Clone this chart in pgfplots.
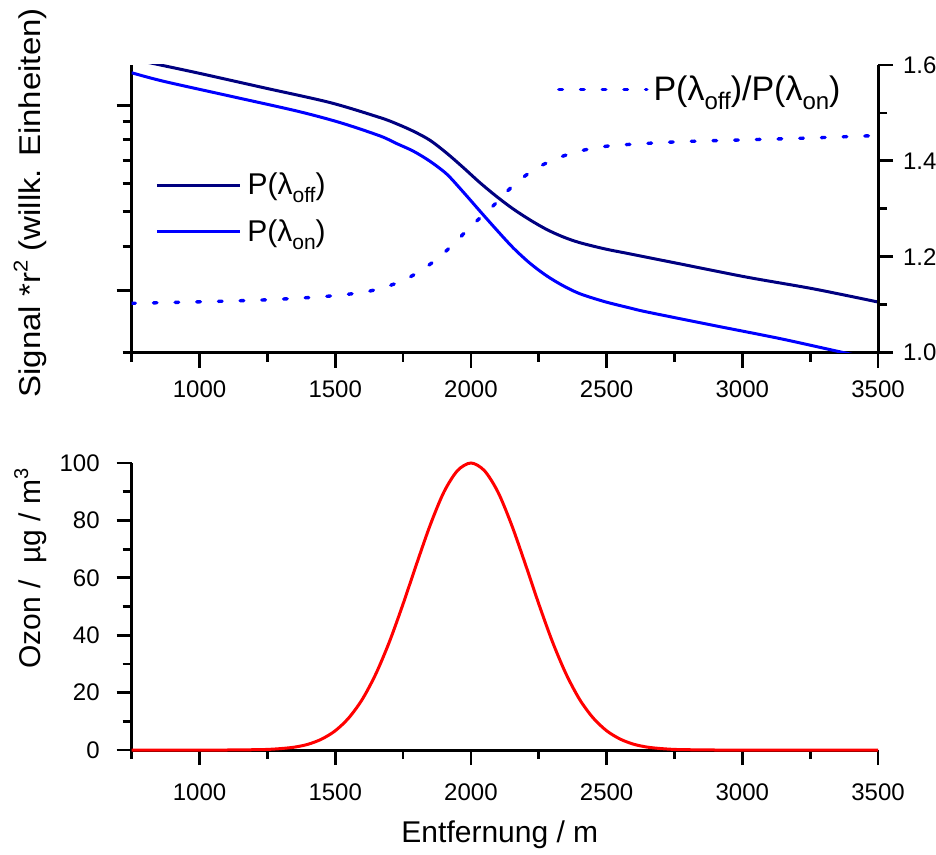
\documentclass[border=0pt]{standalone}
\usepackage{fontspec}
\setmainfont{Liberation Sans}
\usepackage{pgfplots}
\usepackage{pgfplotstable}
\pgfplotsset{compat=1.18}

\definecolor{offblue}{RGB}{0,0,128}
\definecolor{onblue}{RGB}{0,0,255}
\definecolor{ozonred}{RGB}{255,0,0}

% lowered / raised small scripts as in the original
\newcommand{\sub}[2][10.5]{\raisebox{-0.5ex}{\fontsize{#1}{12}\selectfont #2}}
\newcommand{\hoch}[1]{\raisebox{0.8ex}{\fontsize{10}{12}\selectfont #1}}

% Signal * r^2, arbitrary units (log axis)
\pgfplotstableread{
x     s
750   13.53
817   13.19
990   12.36
1235  11.22
1481  10.18
1665  9.233
1726  8.869
1788  8.449
1849  7.968
1911  7.324
1972  6.668
2033  6.047
2095  5.522
2156  5.093
2218  4.743
2279  4.459
2340  4.247
2402  4.090
2494  3.929
2586  3.804
2770  3.565
3016  3.270
3261  3.031
3500  2.781
}\poff

\pgfplotstableread{
x     s
750   12.36
866   11.70
1112  10.62
1358  9.637
1518  8.937
1665  8.195
1726  7.800
1788  7.420
1849  6.950
1911  6.391
1972  5.686
2033  5.027
2095  4.444
2156  3.955
2218  3.576
2279  3.298
2340  3.091
2402  2.934
2494  2.786
2586  2.675
2648  2.607
2893  2.389
3139  2.192
3360  2.011
3500  1.907
}\pon

% P(off)/P(on), right axis
\pgfplotstableread{
x     r
750   1.103
990   1.106
1235  1.110
1456  1.117
1603  1.126
1690  1.138
1766  1.155
1846  1.183
1922  1.219
1999  1.263
2078  1.304
2153  1.347
2230  1.381
2311  1.404
2390  1.419
2468  1.428
2546  1.433
2770  1.440
3016  1.444
3261  1.448
3500  1.453
}\ratio

% Ozon in ug/m^3
\pgfplotstableread{
x     c
750   0
1000  0
1100  0.0
1200  0.1
1250  0.2
1300  0.5
1350  1.0
1400  2.0
1450  3.8
1500  6.7
1550  11.2
1600  17.7
1650  26.6
1700  37.8
1750  50.9
1800  64.9
1850  78.4
1900  89.8
1950  97.3
2000  100
2050  97.3
2100  89.8
2150  78.4
2200  64.9
2250  50.9
2300  37.8
2350  26.6
2400  17.7
2450  11.2
2500  6.7
2550  3.8
2600  2.0
2650  1.0
2700  0.5
2750  0.2
2800  0.1
2900  0.0
3000  0
3500  0
}\ozon

\pgfplotsset{
  lidar/.style={
    scale only axis,
    width=373.15pt,
    xmin=750, xmax=3500,
    xtick={1000,1500,...,3500},
    minor xtick={750,1250,...,3250},
    tick align=outside,
    major tick length=7.5pt,
    minor tick length=4.5pt,
    tick style={black, line width=1.4pt},
    axis line style={line width=1.5pt},
    tick label style={font=\fontsize{12}{14}\selectfont},
    /pgf/number format/assume math mode=true,
    /pgf/number format/1000 sep={},
    legend style={draw=none, fill=none, inner sep=0pt,
      font=\fontsize{15}{18}\selectfont},
  },
}

\begin{document}
\begin{tikzpicture}
\path[use as bounding box] (-65.85pt,-251.15pt) rectangle (402.15pt,176.35pt);

% top: signals on log axis (left)
\begin{axis}[lidar,
  height=143.85pt,
  axis x line*=bottom, axis y line*=left,
  tick align=outside,
  xticklabel style={yshift=-3pt},
  ymode=log, ymin=2, ymax=13,
  ytick={3,10}, minor ytick={2,4,5,6,7,8,9},
  yticklabels={,,},
  every axis y label/.style={at={([xshift=-50.85pt,yshift=3pt]axis description cs:0,0.5)},
    rotate=90, anchor=center, font=\fontsize{15}{18}\selectfont},
  ylabel={\scalebox{1.1}[1]{Signal *r\hoch{2} (willk. Einheiten)}},
  legend style={at={(axis description cs:0.0312,0.501)}, anchor=west,
    row sep=7pt, column sep=1pt},
  legend image code/.code={\draw[#1] (0pt,0pt) -- (41.5pt,0pt);},
]
\addplot[offblue, line width=1.5pt, smooth] table {\poff};
\addlegendentry{P(λ\sub{off})}
\addplot[onblue, line width=1.5pt, smooth] table {\pon};
\addlegendentry{P(λ\sub{on})}
\end{axis}

% top: ratio on linear axis (right)
\begin{axis}[lidar,
  height=143.85pt,
  hide x axis,
  axis y line*=right,
  tick align=outside,
  ymin=1.0, ymax=1.6,
  ytick={1.0,1.2,1.4,1.6}, minor ytick={1.1,1.3,1.5},
  yticklabel style={xshift=1.5pt, /pgf/number format/.cd, fixed, fixed zerofill, precision=1},
  legend style={at={(axis description cs:0.5695,0.915)}, anchor=west, column sep=0.5pt,
    font=\fontsize{17}{20}\selectfont},
  legend image code/.code={\draw[#1] (0pt,0pt) -- (44pt,0pt);},
]
\addplot[onblue, line width=1.7pt, line cap=round, dash pattern=on 1.8pt off 9.05pt, smooth] table {\ratio};
\addlegendentry{P(λ\sub[12]{off})/P(λ\sub[12]{on})}
\end{axis}

% bottom: ozone
\begin{axis}[lidar,
  at={(0pt,-198.65pt)}, anchor=south west,
  height=143.5pt,
  axis x line*=bottom, axis y line*=left,
  tick align=outside,
  ymin=0, ymax=100,
  ytick={0,20,...,100}, minor ytick={10,30,...,90},
  yticklabel style={xshift=-5pt},
  xticklabel style={yshift=-6pt},
  clip=false,
  every axis y label/.style={at={([xshift=-50.5pt,yshift=19pt]axis description cs:0,0.5)},
    rotate=90, anchor=center, font=\fontsize{15}{18}\selectfont},
  every axis x label/.style={at={([xshift=-2.5pt,yshift=-42.5pt]axis description cs:0.5,0)},
    anchor=center, font=\fontsize{15}{18}\selectfont},
  xlabel={Entfernung / m},
  ylabel={Ozon /\ \ µg / m\hoch{3}},
]
\addplot[ozonred, line width=1.5pt, smooth] table {\ozon};
\end{axis}
\end{tikzpicture}
\end{document}
